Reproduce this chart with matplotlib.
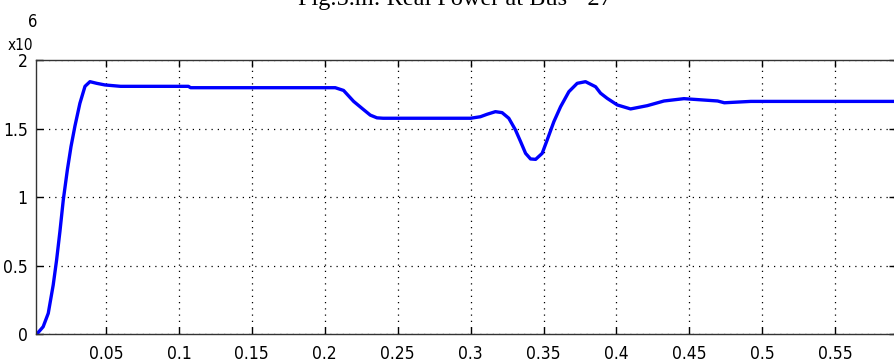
import numpy as np
import matplotlib.pyplot as plt

# time (s) and real power (x10^6 W)
t = [0.0024, 0.0069, 0.0104, 0.0138, 0.0161, 0.0184, 0.0207, 0.0235, 0.0260, 0.0287,
     0.0321, 0.0356, 0.039, 0.0436, 0.0493, 0.06, 0.1065, 0.108, 0.2072, 0.2129,
     0.2198, 0.2266, 0.2312, 0.2358, 0.24, 0.2999, 0.3067, 0.3113, 0.317, 0.3216,
     0.3262, 0.3308, 0.3343, 0.3377, 0.3411, 0.3446, 0.3491, 0.3525, 0.3571, 0.3617,
     0.3674, 0.3731, 0.3788, 0.3857, 0.3891, 0.3937, 0.4006, 0.4097, 0.4212, 0.4326,
     0.4463, 0.4694, 0.474, 0.4921, 0.52, 0.6]
p = [0.0, 0.055, 0.153, 0.36, 0.54, 0.75, 0.98, 1.2, 1.37, 1.52,
     1.686, 1.81, 1.844, 1.832, 1.82, 1.81, 1.81, 1.80, 1.80, 1.78,
     1.70, 1.64, 1.60, 1.58, 1.577, 1.577, 1.588, 1.606, 1.625, 1.618,
     1.577, 1.491, 1.406, 1.321, 1.28, 1.277, 1.321, 1.418, 1.552, 1.661,
     1.771, 1.832, 1.844, 1.807, 1.76, 1.722, 1.674, 1.645, 1.669, 1.703,
     1.72, 1.703, 1.69, 1.70, 1.70, 1.70]
xticks = [0.05, 0.1, 0.15, 0.2, 0.25, 0.3, 0.35, 0.4, 0.45, 0.5, 0.55]
yticks = [0, 0.5, 1, 1.5, 2]

plt.rcParams['font.family'] = ['DejaVu Sans']
plt.rcParams['font.stretch'] = 'condensed'

W, H = 894, 363
fig = plt.figure(figsize=(W / 100, H / 100), dpi=100)
# axes box in pixels: left 36, right just past the image edge, bottom 334, top 60
ax = fig.add_axes([36 / W, (H - 334.3) / H, (896 - 36) / W, (334.3 - 60.3) / H])

ax.plot(t, np.array(p) * 1e6, color='#0000ff', lw=2.4, solid_joinstyle='round')

ax.set_xlim(0.002, 0.5917)
ax.set_ylim(0, 2e6)
ax.set_xticks(xticks)
ax.set_xticklabels([f"{v:g}" for v in xticks])
ax.set_yticks([v * 1e6 for v in yticks])
ax.set_yticklabels([f"{v:g}" for v in yticks])
ax.tick_params(direction='in', top=True, right=True, length=5, width=1,
               labelsize=12.5, colors='black')
ax.tick_params(axis='x', pad=8)
ax.tick_params(axis='y', pad=6)
ax.grid(True, color='black', linestyle=(0, (1, 4)), linewidth=0.9)
for s in ax.spines.values():
    s.set_color('#333333')
    s.set_linewidth(1)

fig.text(8 / W, 1 - 50 / H, "x10", fontsize=11, ha='left', va='baseline')
fig.text(28 / W, 1 - 27 / H, "6", fontsize=12, ha='left', va='baseline')

fig.text(455 / W, 1 - 4.5 / H, "Fig.5.m: Real Power at Bus - 27",
         family='Liberation Serif', fontsize=17.5, ha='center', va='baseline')

fig.savefig("out.png", dpi=100)
